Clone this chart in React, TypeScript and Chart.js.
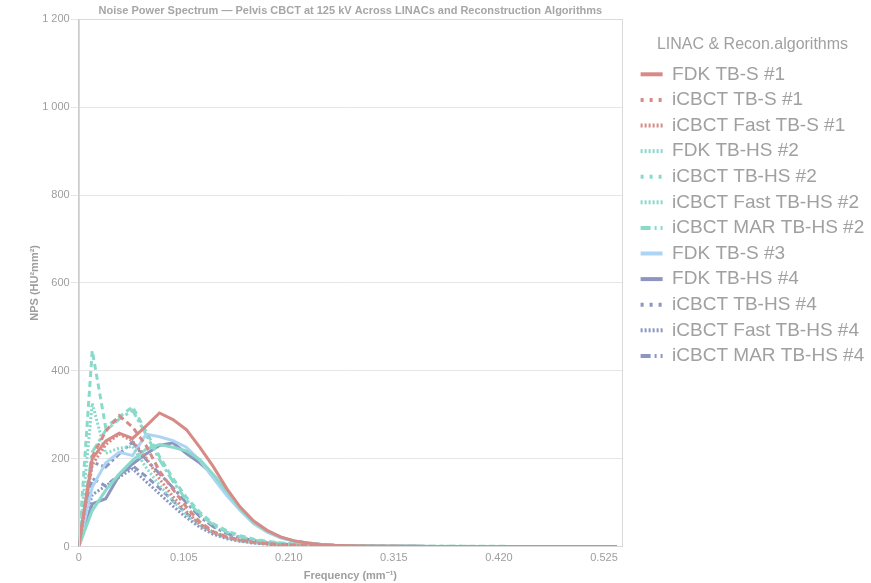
import React, { useEffect, useRef } from 'react';
import { Chart, registerables } from 'chart.js';

Chart.register(...registerables);

const FONT = 'Liberation Sans, Arial, Helvetica, sans-serif';

const frequencies = [
  0, 0.0135, 0.0269, 0.0404, 0.0538, 0.0673, 0.0807, 0.0942, 0.1076, 0.1211,
  0.1345, 0.148, 0.1614, 0.1749, 0.1883, 0.2018, 0.2152, 0.2287, 0.2421, 0.2556,
  0.269, 0.2825, 0.2959, 0.3094, 0.3228, 0.3363, 0.3497, 0.3632, 0.3766, 0.3901,
  0.4035, 0.417, 0.4304, 0.4439, 0.4573, 0.4708, 0.4842, 0.4977, 0.5111, 0.5246, 0.538,
];

const xTickValues = [0, 0.105, 0.21, 0.315, 0.42, 0.525];
const yTickStep = 200;

const fdkTbs1 = [0, 200, 240, 258, 246, 274, 304, 289, 266, 226, 182, 132, 90, 58, 37, 22, 13, 8, 5, 3,
  2, 1.4, 1, 0.8, 0.7, 0.6, 0.5, 0.5, 0.4, 0.4, 0.4, 0.3, 0.3, 0.3, 0.3, 0.3, 0.3, 0.3, 0.3, 0.3, 0.3];
const icbctTbs1 = [0, 205, 262, 298, 272, 230, 172, 130, 90, 56, 34, 22, 15, 10, 7, 5, 3.5, 2.5, 1.8, 1.3,
  1, 0.8, 0.7, 0.6, 0.5, 0.5, 0.4, 0.4, 0.4, 0.3, 0.3, 0.3, 0.3, 0.3, 0.3, 0.3, 0.3, 0.3, 0.3, 0.3, 0.3];
const fastTbs1 = [0, 186, 232, 256, 240, 202, 154, 114, 80, 51, 32, 21, 14, 9.5, 6.5, 4.5, 3.2, 2.2, 1.6, 1.1,
  0.9, 0.7, 0.6, 0.5, 0.5, 0.4, 0.4, 0.4, 0.3, 0.3, 0.3, 0.3, 0.3, 0.3, 0.2, 0.2, 0.2, 0.2, 0.2, 0.2, 0.2];
const fdkTbhs2 = [0, 82, 128, 165, 196, 222, 232, 226, 218, 198, 164, 126, 86, 55, 35, 21, 13, 8, 5, 3,
  2, 1.4, 1, 0.8, 0.7, 0.6, 0.5, 0.5, 0.4, 0.4, 0.4, 0.3, 0.3, 0.3, 0.3, 0.3, 0.3, 0.3, 0.3, 0.3, 0.3];
const icbctTbhs2 = [0, 446, 272, 295, 318, 262, 205, 155, 112, 78, 52, 36, 25, 17, 12, 8.5, 6, 4.5, 3.3, 2.5,
  2, 1.6, 1.3, 1.1, 1, 0.9, 0.8, 0.7, 0.7, 0.6, 0.6, 0.6, 0.5, 0.5, 0.5, 0.5, 0.5, 0.5, 0.5, 0.5, 0.5];
const fastTbhs2 = [0, 326, 212, 224, 228, 180, 140, 104, 73, 48, 31, 20, 13, 9, 6, 4, 3, 2, 1.4, 1,
  0.8, 0.7, 0.6, 0.5, 0.5, 0.4, 0.4, 0.4, 0.3, 0.3, 0.3, 0.3, 0.3, 0.3, 0.3, 0.3, 0.3, 0.3, 0.3, 0.3, 0.3];
const marTbhs2 = [0, 215, 264, 290, 310, 255, 198, 148, 106, 73, 49, 33, 22, 15, 10.5, 7.5, 5.3, 3.8, 2.8, 2,
  1.6, 1.3, 1.1, 0.9, 0.8, 0.7, 0.7, 0.6, 0.6, 0.5, 0.5, 0.5, 0.5, 0.5, 0.4, 0.4, 0.4, 0.4, 0.4, 0.4, 0.4];
const fdkTbs3 = [0, 135, 190, 215, 207, 256, 250, 241, 226, 196, 156, 116, 82, 52, 33, 20, 12, 7.5, 4.5, 2.7,
  1.8, 1.3, 1, 0.8, 0.7, 0.6, 0.5, 0.5, 0.4, 0.4, 0.4, 0.3, 0.3, 0.3, 0.3, 0.3, 0.3, 0.3, 0.3, 0.3, 0.3];
const fdkTbhs4 = [0, 97, 109, 162, 188, 211, 230, 236, 212, 190, 163, 126, 88, 56, 35, 21, 13, 8, 5, 3,
  2, 1.4, 1, 0.8, 0.7, 0.6, 0.5, 0.5, 0.4, 0.4, 0.4, 0.3, 0.3, 0.3, 0.3, 0.3, 0.3, 0.3, 0.3, 0.3, 0.3];
const icbctTbhs4 = [0, 155, 138, 163, 184, 160, 133, 104, 76, 51, 33, 22, 14.5, 9.5, 6.5, 4.5, 3.2, 2.3, 1.6, 1.2,
  0.9, 0.7, 0.6, 0.5, 0.5, 0.4, 0.4, 0.4, 0.3, 0.3, 0.3, 0.3, 0.3, 0.3, 0.3, 0.3, 0.3, 0.3, 0.3, 0.3, 0.3];
const fastTbhs4 = [0, 118, 138, 158, 177, 148, 120, 92, 66, 44, 28, 18, 12, 8, 5.5, 3.8, 2.7, 1.9, 1.3, 1,
  0.8, 0.6, 0.5, 0.5, 0.4, 0.4, 0.3, 0.3, 0.3, 0.3, 0.3, 0.2, 0.2, 0.2, 0.2, 0.2, 0.2, 0.2, 0.2, 0.2, 0.2];
const marTbhs4 = [0, 192, 181, 211, 238, 198, 166, 134, 100, 68, 45, 30, 20, 13.5, 9, 6.3, 4.4, 3.1, 2.2, 1.6,
  1.2, 1, 0.8, 0.7, 0.6, 0.5, 0.5, 0.5, 0.4, 0.4, 0.4, 0.4, 0.3, 0.3, 0.3, 0.3, 0.3, 0.3, 0.3, 0.3, 0.3];

const RED = 'rgb(214,139,134)';
const TEAL = 'rgb(138,218,204)';
const LIGHT_BLUE = 'rgb(172,212,244)';
const SLATE = 'rgb(140,150,192)';

const SOLID: number[] = [];
const SPARSE = [3, 6];
const DENSE = [2, 2];
const DASHDOT = [10, 4, 2, 4];
const PLOT_SPARSE = [6, 4];
const PLOT_DASHDOT = [10, 3, 3, 3];

const seriesNames = [
  'FDK TB-S #1', 'iCBCT TB-S #1', 'iCBCT Fast TB-S #1',
  'FDK TB-HS #2', 'iCBCT TB-HS #2', 'iCBCT Fast TB-HS #2', 'iCBCT MAR TB-HS #2',
  'FDK TB-S #3',
  'FDK TB-HS #4', 'iCBCT TB-HS #4', 'iCBCT Fast TB-HS #4', 'iCBCT MAR TB-HS #4',
];
const seriesValues = [
  fdkTbs1, icbctTbs1, fastTbs1,
  fdkTbhs2, icbctTbhs2, fastTbhs2, marTbhs2,
  fdkTbs3,
  fdkTbhs4, icbctTbhs4, fastTbhs4, marTbhs4,
];
const seriesColors = [RED, RED, RED, TEAL, TEAL, TEAL, TEAL, LIGHT_BLUE, SLATE, SLATE, SLATE, SLATE];
const lineDashes = [SOLID, PLOT_SPARSE, DENSE, SOLID, PLOT_SPARSE, DENSE, PLOT_DASHDOT, SOLID, SOLID, PLOT_SPARSE, DENSE, PLOT_DASHDOT];
const legendDashes = [SOLID, SPARSE, DENSE, DENSE, SPARSE, DENSE, DASHDOT, SOLID, SOLID, SPARSE, DENSE, DASHDOT];

const LEGEND_WIDTH = 237;

const fmtThousands = (v: number) => String(v).replace(/\B(?=(\d{3})+(?!\d))/g, ' ');

const frameBorder = {
  id: 'frameBorder',
  afterDraw(chart: any) {
    const { ctx, chartArea } = chart;
    ctx.save();
    ctx.strokeStyle = '#d9d9d9';
    ctx.lineWidth = 1;
    ctx.strokeRect(Math.round(chartArea.left) + 0.5, Math.round(chartArea.top) + 0.5,
      Math.round(chartArea.right - chartArea.left), Math.round(chartArea.bottom - chartArea.top));
    ctx.restore();
  },
};

const legendWidth = {
  id: 'legendWidth',
  beforeUpdate(chart: any) {
    const lg = chart.legend;
    if (lg && !lg.__patched) {
      const orig = lg.fit;
      lg.fit = function () {
        orig.call(this);
        this.width = LEGEND_WIDTH;
      };
      lg.__patched = true;
    }
  },
};

export default function App() {
  const ref = useRef<HTMLCanvasElement>(null);
  useEffect(() => {
    document.body.style.margin = '0';
    const canvas = ref.current;
    if (!canvas) return;
    const datasets = seriesNames.map((name, i) => ({
      label: name,
      data: frequencies.map((f, j) => ({ x: f, y: seriesValues[i][j] })),
      borderColor: seriesColors[i],
      backgroundColor: seriesColors[i],
      borderWidth: 3,
      borderDash: lineDashes[i],
      pointRadius: 0,
      pointHoverRadius: 0,
      tension: 0,
      fill: false,
    }));
    const chart = new Chart(canvas, {
      type: 'line',
      data: { datasets },
      plugins: [frameBorder, legendWidth],
      options: {
        responsive: false,
        animation: false,
        font: { family: FONT },
        layout: { padding: 0 },
        plugins: {
          title: {
            display: true,
            text: 'Noise Power Spectrum — Pelvis CBCT at 125 kV Across LINACs and Reconstruction Algorithms',
            color: '#a6a6a6',
            fullSize: false,
            font: { family: FONT, size: 11, weight: 'bold' },
            padding: { top: 4, bottom: 2 },
          },
          legend: {
            position: 'right',
            align: 'start',
            title: {
              display: true,
              text: 'LINAC & Recon.algorithms',
              color: '#a0a0a0',
              font: { family: FONT, size: 16 },
              padding: { top: 37, bottom: 2 },
            },
            labels: {
              color: '#a0a0a0',
              font: { family: FONT, size: 19 },
              usePointStyle: true,
              pointStyle: 'line',
              pointStyleWidth: 22,
              padding: 6.6,
              generateLabels: (ch: any) => {
                const base = Chart.defaults.plugins.legend.labels.generateLabels(ch);
                return base.map((it: any, i: number) => ({
                  ...it,
                  lineWidth: 4,
                  lineDash: legendDashes[i],
                  pointStyle: 'line',
                }));
              },
            },
          },
          tooltip: { enabled: false },
        },
        scales: {
          x: {
            type: 'linear',
            min: 0,
            max: 0.543,
            afterBuildTicks: (axis: any) => {
              axis.ticks = xTickValues.map((v) => ({ value: v }));
            },
            grid: { display: false, drawTicks: false },
            border: { display: true, color: '#cccccc' },
            ticks: {
              color: '#9e9e9e',
              padding: 5,
              font: { family: FONT, size: 11 },
              maxRotation: 0,
              callback: (v: any) => (Number(v) === 0 ? '0' : Number(v).toFixed(3)),
            },
            title: {
              display: true,
              text: 'Frequency (mm⁻¹)',
              color: '#9e9e9e',
              font: { family: FONT, size: 11, weight: 'bold' },
              padding: { top: 0, bottom: 0 },
            },
          },
          y: {
            type: 'linear',
            min: 0,
            max: 1200,
            grid: { color: '#e6e6e6', tickColor: '#e6e6e6' },
            border: { display: true, color: '#cccccc' },
            ticks: {
              stepSize: yTickStep,
              padding: 1,
              color: '#9e9e9e',
              font: { family: FONT, size: 11 },
              callback: (v: any) => fmtThousands(Number(v)),
            },
            title: {
              display: true,
              text: 'NPS (HU²mm²)',
              color: '#9e9e9e',
              font: { family: FONT, size: 11, weight: 'bold' },
              padding: { top: 28, bottom: 0 },
            },
          },
          gap: {
            type: 'linear',
            position: 'right',
            display: true,
            grid: { display: false, drawTicks: false },
            border: { display: false },
            ticks: { display: false },
            afterFit: (s: any) => {
              s.width = 12;
            },
          },
        },
      },
    });
    return () => chart.destroy();
  }, []);
  return (
    <div style={{ width: 871, height: 583, position: 'relative' }}>
      <canvas ref={ref} width={871} height={583} />
    </div>
  );
}
